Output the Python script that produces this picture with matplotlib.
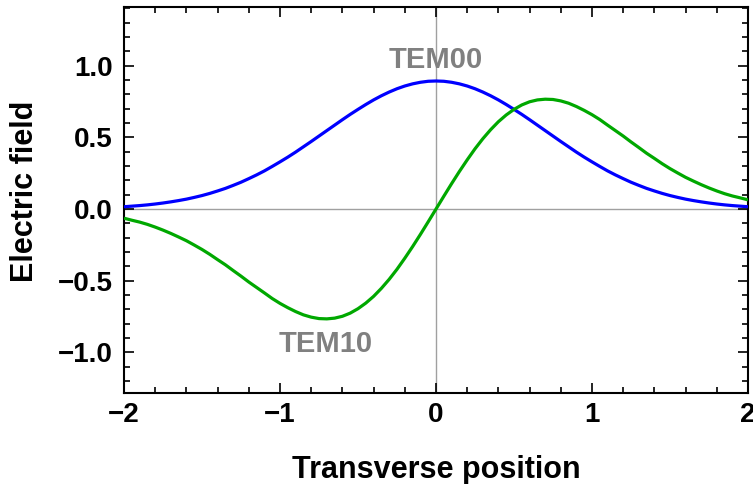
import matplotlib
matplotlib.use("Agg")
import matplotlib.pyplot as plt
from matplotlib.ticker import MultipleLocator

plt.rcParams['font.family'] = ['Liberation Sans', 'DejaVu Sans']
plt.rcParams['font.weight'] = 'bold'

# Transverse position samples
x = [-2.00, -1.95, -1.90, -1.85, -1.80, -1.75, -1.70, -1.65, -1.60, -1.55,
     -1.50, -1.45, -1.40, -1.35, -1.30, -1.25, -1.20, -1.15, -1.10, -1.05,
     -1.00, -0.95, -0.90, -0.85, -0.80, -0.75, -0.70, -0.65, -0.60, -0.55,
     -0.50, -0.45, -0.40, -0.35, -0.30, -0.25, -0.20, -0.15, -0.10, -0.05,
     0.00,
     0.05, 0.10, 0.15, 0.20, 0.25, 0.30, 0.35, 0.40, 0.45, 0.50,
     0.55, 0.60, 0.65, 0.70, 0.75, 0.80, 0.85, 0.90, 0.95, 1.00,
     1.05, 1.10, 1.15, 1.20, 1.25, 1.30, 1.35, 1.40, 1.45, 1.50,
     1.55, 1.60, 1.65, 1.70, 1.75, 1.80, 1.85, 1.90, 1.95, 2.00]

# Fundamental mode field
tem00 = [0.016, 0.020, 0.024, 0.029, 0.035, 0.042, 0.050, 0.059, 0.069, 0.081,
         0.094, 0.109, 0.126, 0.144, 0.165, 0.187, 0.212, 0.238, 0.266, 0.297,
         0.329, 0.362, 0.397, 0.434, 0.471, 0.509, 0.547, 0.585, 0.623, 0.660,
         0.695, 0.729, 0.761, 0.790, 0.816, 0.839, 0.858, 0.873, 0.884, 0.891,
         0.893,
         0.891, 0.884, 0.873, 0.858, 0.839, 0.816, 0.790, 0.761, 0.729, 0.695,
         0.660, 0.623, 0.585, 0.547, 0.509, 0.471, 0.434, 0.397, 0.362, 0.329,
         0.297, 0.266, 0.238, 0.212, 0.187, 0.165, 0.144, 0.126, 0.109, 0.094,
         0.081, 0.069, 0.059, 0.050, 0.042, 0.035, 0.029, 0.024, 0.020, 0.016]

# First-order mode field
tem10 = [-0.064, -0.078, -0.091, -0.107, -0.126, -0.147, -0.170, -0.195, -0.221, -0.251,
         -0.282, -0.316, -0.353, -0.389, -0.429, -0.468, -0.509, -0.547, -0.585, -0.624,
         -0.658, -0.688, -0.715, -0.738, -0.754, -0.764, -0.766, -0.761, -0.748, -0.726,
         -0.695, -0.656, -0.609, -0.553, -0.490, -0.420, -0.343, -0.262, -0.177, -0.089,
         0.000,
         0.089, 0.177, 0.262, 0.343, 0.420, 0.490, 0.553, 0.609, 0.656, 0.695,
         0.726, 0.748, 0.761, 0.766, 0.764, 0.754, 0.738, 0.715, 0.688, 0.658,
         0.624, 0.585, 0.547, 0.509, 0.468, 0.429, 0.389, 0.353, 0.316, 0.282,
         0.251, 0.221, 0.195, 0.170, 0.147, 0.126, 0.107, 0.091, 0.078, 0.064]

x_ticks = [-2, -1, 0, 1, 2]
x_tick_labels = ['\u22122', '\u22121', '0', '1', '2']
y_ticks = [-1.0, -0.5, 0.0, 0.5, 1.0]
y_tick_labels = ['\u22121.0', '\u22120.5', '0.0', '0.5', '1.0']

fig = plt.figure(figsize=(7.53, 4.84), dpi=100)
ax = fig.add_axes([124 / 753, 91 / 484, 624 / 753, 386 / 484])

ax.axhline(0, color='#a0a0a0', lw=1.0, zorder=1)
ax.axvline(0, color='#a0a0a0', lw=1.0, zorder=1)

ax.plot(x, tem00, color='#0000ff', lw=2.3, zorder=3, solid_capstyle='butt')
ax.plot(x, tem10, color='#00a800', lw=2.3, zorder=3, solid_capstyle='butt')

ax.text(0.0, 0.983, 'TEM00', color='#808080', fontsize=21, fontweight='bold',
        ha='center', va='baseline')
ax.text(-0.71, -0.997, 'TEM10', color='#808080', fontsize=21, fontweight='bold',
        ha='center', va='baseline')

ax.set_xlim(-2, 2)
ax.set_ylim(-1.283, 1.409)

ax.set_xticks(x_ticks)
ax.set_xticklabels(x_tick_labels)
ax.set_yticks(y_ticks)
ax.set_yticklabels(y_tick_labels)
ax.xaxis.set_minor_locator(MultipleLocator(0.2))
ax.yaxis.set_minor_locator(MultipleLocator(0.1))

ax.tick_params(which='both', direction='in', top=True, right=True,
               labeltop=False, labelright=False, width=1.2, color='black')
ax.tick_params(which='major', length=7, labelsize=20)
ax.tick_params(axis='x', which='major', pad=6.5)
ax.tick_params(axis='y', which='major', pad=8)
ax.tick_params(which='minor', length=4)

for s in ax.spines.values():
    s.set_linewidth(1.5)

fig.text(436 / 753, 6 / 484, 'Transverse position', fontsize=22,
         fontweight='bold', ha='center', va='baseline')
fig.text(25 / 753, 1 - 191 / 484, 'Electric field', fontsize=22,
         fontweight='bold', ha='center', va='center', rotation=90)

fig.savefig('out.png', dpi=100)
